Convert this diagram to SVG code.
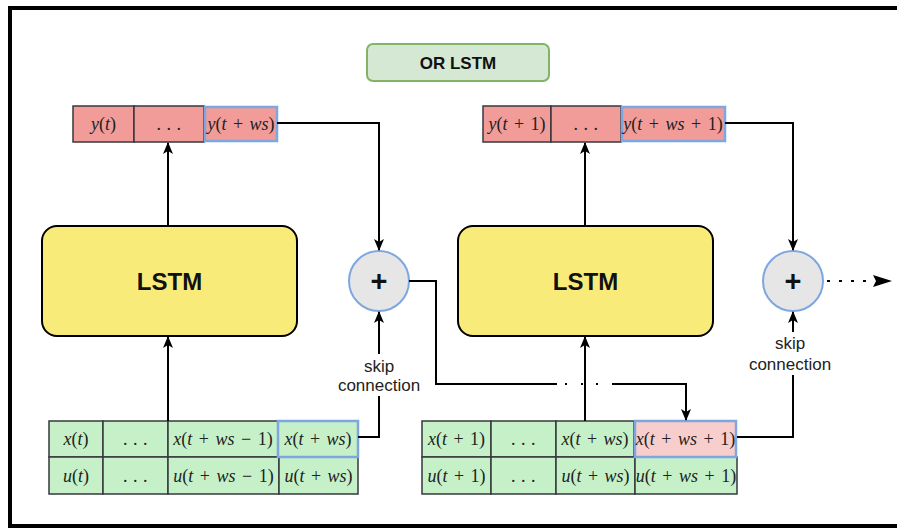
<svg xmlns="http://www.w3.org/2000/svg" width="897" height="528" viewBox="0 0 897 528">
<style>
.frame{fill:#fff;stroke:#000;stroke-width:4}
.cellr{fill:#f19c99;stroke:#36393d;stroke-width:1.5}
.cellg{fill:#c6f1c8;stroke:#36393d;stroke-width:1.5}
.cellp{fill:#f8cecc;stroke:#7ea6e0;stroke-width:2.5}
.hl{fill:#f19c99;stroke:#7ea6e0;stroke-width:2.5}
.hlg{fill:#c6f1c8;stroke:#7ea6e0;stroke-width:2.5}
.lstm{fill:#f8eb7a;stroke:#000;stroke-width:2}
.sum{fill:#e6e6e6;stroke:#7ea6e0;stroke-width:2}
.or{fill:#d5e8d4;stroke:#82b366;stroke-width:2}
.m{font-family:"Liberation Serif",serif;font-size:18px;word-spacing:2px;fill:#222;text-anchor:middle}
.d{font-family:"Liberation Serif",serif;font-size:18px;fill:#222;text-anchor:middle;letter-spacing:0.5px}
.i{font-style:italic}
.b{font-family:"Liberation Sans",Arial,sans-serif;font-weight:bold;fill:#111;text-anchor:middle}
.lbl{font-family:"Liberation Sans",Arial,sans-serif;font-size:17px;fill:#222;text-anchor:middle}
.c{fill:none;stroke:#000;stroke-width:2}
</style>
<defs>
<marker id="arr" viewBox="0 0 12 10" refX="11" refY="5" markerWidth="12" markerHeight="10" markerUnits="userSpaceOnUse" orient="auto">
<path d="M0,0 L12,5 L0,10 L3,5 Z" fill="#000"/>
</marker>
</defs>
<rect class="frame" x="10" y="8" width="895" height="518"/>

<g id="or-lstm">
<rect class="or" x="367" y="44" width="182" height="37" rx="6"/>
<text class="b" x="458" y="69" font-size="17">OR LSTM</text>
</g>

<g id="y-left">
<rect class="cellr" x="73" y="106" width="61" height="36"/>
<rect class="cellr" x="134" y="106" width="70" height="36"/>
<rect class="hl" x="205" y="107" width="72" height="34"/>
<text class="m" x="103.5" y="130"><tspan class="i">y</tspan>(<tspan class="i">t</tspan>)</text>
<text class="d" x="169" y="130">. . .</text>
<text class="m" x="241" y="130"><tspan class="i">y</tspan>(<tspan class="i">t</tspan> + <tspan class="i">ws</tspan>)</text>
</g>

<g id="y-right">
<rect class="cellr" x="483" y="106" width="68" height="36"/>
<rect class="cellr" x="551" y="106" width="70" height="36"/>
<rect class="hl" x="622" y="107" width="103" height="34"/>
<text class="m" x="517" y="130"><tspan class="i">y</tspan>(<tspan class="i">t</tspan> + 1)</text>
<text class="d" x="586" y="130">. . .</text>
<text class="m" x="673" y="130"><tspan class="i">y</tspan>(<tspan class="i">t</tspan> + <tspan class="i">ws</tspan> + 1)</text>
</g>

<g id="lstm-left">
<rect class="lstm" x="42" y="226" width="255" height="110" rx="15"/>
<text class="b" x="169.5" y="290" font-size="24">LSTM</text>
</g>

<g id="lstm-right">
<rect class="lstm" x="458" y="226" width="255" height="110" rx="15"/>
<text class="b" x="585.5" y="290" font-size="24">LSTM</text>
</g>

<g id="sum-left">
<circle class="sum" cx="379" cy="281" r="30"/>
<text class="b" x="379" y="291" font-size="29">+</text>
</g>

<g id="sum-right">
<circle class="sum" cx="793" cy="281" r="30"/>
<text class="b" x="793" y="291" font-size="29">+</text>
</g>

<g id="x-left">
<rect class="cellg" x="49" y="421" width="54" height="36"/>
<rect class="cellg" x="103" y="421" width="65" height="36"/>
<rect class="cellg" x="168" y="421" width="110" height="36"/>
<rect class="cellg" x="49" y="457" width="54" height="37"/>
<rect class="cellg" x="103" y="457" width="65" height="37"/>
<rect class="cellg" x="168" y="457" width="111" height="37"/>
<rect class="cellg" x="279" y="457" width="79" height="37"/>
<rect class="hlg" x="278" y="421" width="80" height="36"/>
<text class="m" x="76" y="445"><tspan class="i">x</tspan>(<tspan class="i">t</tspan>)</text>
<text class="d" x="135.5" y="445">. . .</text>
<text class="m" x="223" y="445"><tspan class="i">x</tspan>(<tspan class="i">t</tspan> + <tspan class="i">ws</tspan> − 1)</text>
<text class="m" x="318" y="445"><tspan class="i">x</tspan>(<tspan class="i">t</tspan> + <tspan class="i">ws</tspan>)</text>
<text class="m" x="76" y="482"><tspan class="i">u</tspan>(<tspan class="i">t</tspan>)</text>
<text class="d" x="135.5" y="482">. . .</text>
<text class="m" x="223.5" y="482"><tspan class="i">u</tspan>(<tspan class="i">t</tspan> + <tspan class="i">ws</tspan> − 1)</text>
<text class="m" x="318.5" y="482"><tspan class="i">u</tspan>(<tspan class="i">t</tspan> + <tspan class="i">ws</tspan>)</text>
</g>

<g id="x-right">
<rect class="cellg" x="422" y="421" width="69" height="36"/>
<rect class="cellg" x="491" y="421" width="65" height="36"/>
<rect class="cellg" x="556" y="421" width="78" height="36"/>
<rect class="cellg" x="422" y="457" width="69" height="37"/>
<rect class="cellg" x="491" y="457" width="65" height="37"/>
<rect class="cellg" x="556" y="457" width="79" height="37"/>
<rect class="cellg" x="635" y="457" width="102" height="37"/>
<rect class="cellp" x="635" y="421" width="101" height="36"/>
<text class="m" x="456.5" y="445"><tspan class="i">x</tspan>(<tspan class="i">t</tspan> + 1)</text>
<text class="d" x="523.5" y="445">. . .</text>
<text class="m" x="595" y="445"><tspan class="i">x</tspan>(<tspan class="i">t</tspan> + <tspan class="i">ws</tspan>)</text>
<text class="m" x="685.5" y="445"><tspan class="i">x</tspan>(<tspan class="i">t</tspan> + <tspan class="i">ws</tspan> + 1)</text>
<text class="m" x="456.5" y="482"><tspan class="i">u</tspan>(<tspan class="i">t</tspan> + 1)</text>
<text class="d" x="523.5" y="482">. . .</text>
<text class="m" x="595.5" y="482"><tspan class="i">u</tspan>(<tspan class="i">t</tspan> + <tspan class="i">ws</tspan>)</text>
<text class="m" x="686" y="482"><tspan class="i">u</tspan>(<tspan class="i">t</tspan> + <tspan class="i">ws</tspan> + 1)</text>
</g>

<g id="connectors">
<path class="c" d="M168,421 V337" marker-end="url(#arr)"/>
<path class="c" d="M168,226 V143" marker-end="url(#arr)"/>
<path class="c" d="M585,421 V337" marker-end="url(#arr)"/>
<path class="c" d="M585,226 V143" marker-end="url(#arr)"/>
<path class="c" d="M277,123 H379 V250" marker-end="url(#arr)"/>
<path class="c" d="M725,123 H793 V250" marker-end="url(#arr)"/>
<path class="c" d="M358,437 H379 V396"/>
<path class="c" d="M379,354 V312" marker-end="url(#arr)"/>
<path class="c" d="M737,437 H793 V375"/>
<path class="c" d="M793,332 V312" marker-end="url(#arr)"/>
<path class="c" d="M409,281 H436 V384 H557"/>
<path class="c" d="M565,384 h2 M581,384 h2 M596,384 h2"/>
<path class="c" d="M612,384 H686 V420" marker-end="url(#arr)"/>
<path class="c" d="M827,281 h3 M839,281 h3 M851,281 h3 M863,281 h3"/>
<polygon points="873,275 892,281 873,287 876,281" fill="#000"/>
<text class="lbl" x="379" y="372">skip</text>
<text class="lbl" x="379" y="391">connection</text>
<text class="lbl" x="790" y="349">skip</text>
<text class="lbl" x="790" y="370">connection</text>
</g>
</svg>
